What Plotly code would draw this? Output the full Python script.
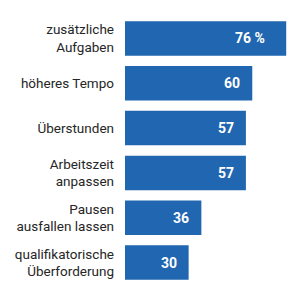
import plotly.graph_objects as go

categories = ["zusätzliche<br>Aufgaben", "höheres Tempo", "Überstunden",
              "Arbeitszeit<br>anpassen", "Pausen<br>ausfallen lassen",
              "qualifikatorische<br>Überforderung"]
values = [76, 60, 57, 57, 36, 30]
labels = ["76 %", "60", "57", "57", "36", "30"]

bar_color = "#2166b0"

fig = go.Figure(go.Bar(
    x=values, y=categories, orientation="h",
    marker=dict(color=bar_color, line=dict(width=0)),
    hoverinfo="skip",
))

for v, c, t in zip(values, categories, labels):
    fig.add_annotation(
        x=v, y=c, text=t, xanchor="right", yanchor="middle",
        xshift=-19 if "%" in t else -10, showarrow=False,
        font=dict(family="Roboto", size=14, color="white", weight="bold"),
    )

fig.update_layout(
    width=300, height=300,
    margin=dict(l=125, r=0, t=16, b=15),
    paper_bgcolor="white", plot_bgcolor="white",
    bargap=0.23,
    showlegend=False,
    font=dict(family="Roboto", size=13.5, color="#262626"),
)
fig.update_xaxes(range=[0, 82.5], visible=False, fixedrange=True)
fig.update_yaxes(autorange="reversed", showgrid=False, zeroline=False,
                 showline=False, ticks="", ticklabelstandoff=10,
                 tickfont=dict(family="Roboto", size=13.5, color="#262626"))

fig.write_html("out.html", config={"displayModeBar": False})
